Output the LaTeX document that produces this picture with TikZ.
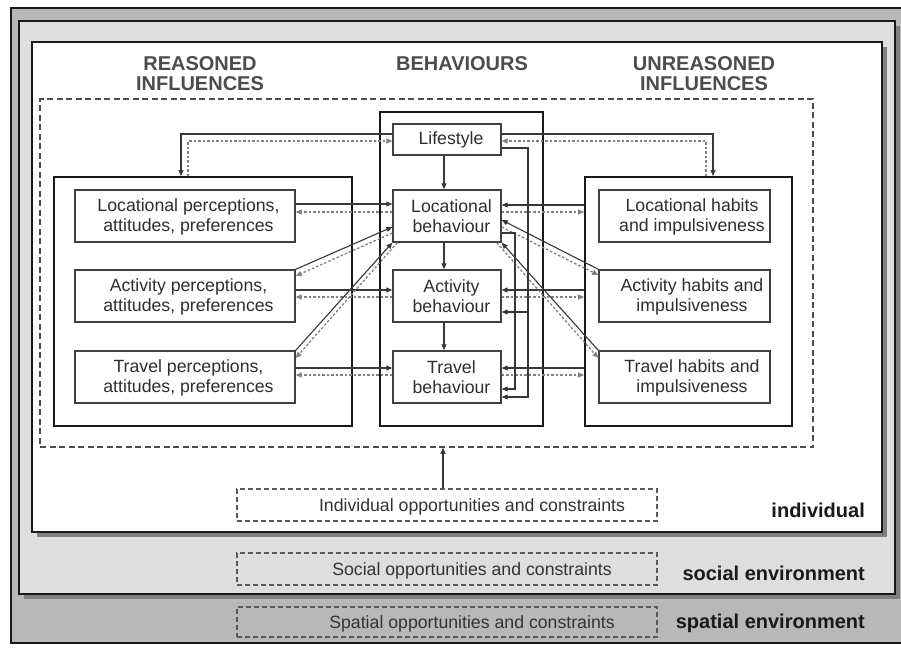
\documentclass[tikz,border=0pt]{standalone}
\usepackage{fontspec}
\setmainfont{Liberation Sans}
\usetikzlibrary{arrows.meta,shadows}
\begin{document}
\begin{tikzpicture}[x=1pt,y=-1pt,
  tipA/.style={-{Triangle[length=6pt,width=5pt]}},
  sol/.style={draw=black!78,line width=1.1pt,tipA},
  dotl/.style={draw=black!50,line width=1.3pt,dash pattern=on 2.5pt off 2pt,tipA},
  ibox/.style={draw=black!75,line width=1.4pt,fill=white,minimum width=#1,minimum height=52pt,inner sep=0pt},
  gbox/.style={draw=black!90,line width=2pt,inner sep=0pt},
  btxt/.style={align=center,text=black!82,font=\fontsize{17.7}{20.5}\selectfont,inner sep=0pt},
  hdr/.style={align=center,text=black!70,font=\fontsize{20}{20}\selectfont\bfseries,inner sep=0pt},
  lbl/.style={anchor=base east,text=black!90,font=\fontsize{20}{20}\selectfont\bfseries,inner sep=0pt},
  obox/.style={draw=black!65,line width=1.3pt,dash pattern=on 5pt off 3pt,minimum width=420pt,inner sep=0pt},
  otxt/.style={anchor=base,text=black!80,font=\fontsize{17.7}{20}\selectfont,inner sep=0pt},
  shd/.style={drop shadow={shadow xshift=5pt,shadow yshift=-5pt,fill=black!50,opacity=1}}
]
\useasboundingbox (0,0) rectangle (901,648);
% environment frames
\node[draw=black!90,line width=2pt,fill=black!28,minimum width=894pt,minimum height=635pt,inner sep=0pt] (spatial) at (458,325.5) {};
\node[shd,draw=black!90,line width=2pt,fill=black!13,minimum width=876pt,minimum height=573pt,inner sep=0pt] (social) at (457,307.5) {};
\node[shd,draw=black!90,line width=2.4pt,fill=white,minimum width=850pt,minimum height=490pt,inner sep=0pt] (indiv) at (457,287) {};
% labels
\node[lbl] (lind) at (865,517) {individual};
\node[lbl] (lsoc) at (865,580) {social environment};
\node[lbl] (lspa) at (865,628) {spatial environment};
% opportunity boxes
\node[obox,minimum height=32pt] (iopp) at (447,505) {};
\node[otxt] (tiopp) at (472,511) {Individual opportunities and constraints};
\node[obox,minimum height=32pt] (sopp) at (447,569) {};
\node[otxt] (tsopp) at (472,575) {Social opportunities and constraints};
\node[obox,minimum height=30pt] (popp) at (447,622) {};
\node[otxt] (tpopp) at (472,628) {Spatial opportunities and constraints};
% headers
\node[hdr] (hr) at (200,74) {REASONED\\INFLUENCES};
\node[hdr] (hb) at (462,64) {BEHAVIOURS};
\node[hdr] (hu) at (704,74) {UNREASONED\\INFLUENCES};
% big dashed box
\node[draw=black!70,line width=1.5pt,dash pattern=on 6pt off 3.5pt,minimum width=773pt,minimum height=348pt,inner sep=0pt] (dbox) at (426.5,273) {};
% group boxes
\node[gbox,minimum width=298pt,minimum height=249pt] (lgrp) at (203,301.5) {};
\node[gbox,minimum width=163pt,minimum height=314pt] (cgrp) at (461.5,269) {};
\node[gbox,minimum width=207pt,minimum height=249pt] (rgrp) at (688.5,301.5) {};
% left inner boxes
\node[ibox=220pt] (rloc) at (185,216) {};
\node[ibox=220pt] (ract) at (185,296) {};
\node[ibox=220pt] (rtrav) at (185,377) {};
\node[btxt] (trloc) at (188.5,217) {Locational perceptions,\\attitudes, preferences};
\node[btxt] (tract) at (188.5,297) {Activity perceptions,\\attitudes, preferences};
\node[btxt] (trtrav) at (188.5,378) {Travel perceptions,\\attitudes, preferences};
% centre boxes
\node[ibox=108pt,minimum height=31pt] (blife) at (447,139.5) {};
\node[ibox=108pt] (bloc) at (447,216) {};
\node[ibox=108pt] (bact) at (447,296) {};
\node[ibox=108pt] (btrav) at (447,377) {};
\node[btxt] (tblife) at (451,140) {Lifestyle};
\node[btxt] (tbloc) at (451.5,216) {Locational\\behaviour};
\node[btxt] (tbact) at (451.5,296) {Activity\\behaviour};
\node[btxt] (tbtrav) at (451.5,377) {Travel\\behaviour};
% right inner boxes
\node[ibox=171pt] (hloc) at (684.5,216) {};
\node[ibox=171pt] (hact) at (684.5,296) {};
\node[ibox=171pt] (htrav) at (684.5,377) {};
\node[btxt] (thloc) at (692,217) {Locational habits\\and impulsiveness};
\node[btxt] (thact) at (692,297) {Activity habits and\\impulsiveness};
\node[btxt] (thtrav) at (692,378) {Travel habits and\\impulsiveness};
% vertical flow in centre
\draw[sol] ([xshift=-3pt]blife.south) -- ([xshift=-3pt]bloc.north);
\draw[sol] ([xshift=-3pt]bloc.south) -- ([xshift=-3pt]bact.north);
\draw[sol] ([xshift=-3pt]bact.south) -- ([xshift=-3pt]btrav.north);
% lifestyle links
\draw[sol] (blife.west |- 0,134) -| (lgrp.north -| 181,0);
\draw[dotl] (lgrp.north -| 188,0) |- (blife.west |- 0,141);
\draw[sol] (blife.east |- 0,134) -| (rgrp.north -| 713,0);
\draw[dotl] (rgrp.north -| 706,0) |- (blife.east |- 0,141);
% rows left
\draw[sol] (rloc.east |- 0,204) -- (bloc.west |- 0,204);
\draw[dotl] (bloc.west |- 0,212) -- (rloc.east |- 0,212);
\draw[sol] (ract.east |- 0,290) -- (bact.west |- 0,290);
\draw[dotl] (bact.west |- 0,297) -- (ract.east |- 0,297);
\draw[sol] (rtrav.east |- 0,368) -- (btrav.west |- 0,368);
\draw[dotl] (btrav.west |- 0,375) -- (rtrav.east |- 0,375);
% rows right
\draw[sol] (rgrp.west |- 0,205) -- (bloc.east |- 0,205);
\draw[dotl] (bloc.east |- 0,212) -- (rgrp.west |- 0,212);
\draw[sol] (rgrp.west |- 0,290) -- (bact.east |- 0,290);
\draw[dotl] (bact.east |- 0,297) -- (rgrp.west |- 0,297);
\draw[sol] (rgrp.west |- 0,368) -- (btrav.east |- 0,368);
\draw[dotl] (btrav.east |- 0,375) -- (rgrp.west |- 0,375);
% diagonals left
\draw[sol] (ract.north east) -- (bloc.west |- 0,227);
\draw[dotl] (bloc.west |- 0,233) -- (ract.east |- 0,276);
\draw[sol] (rtrav.north east) -- (bloc.south west);
\draw[dotl] ([xshift=5pt]bloc.south west) -- (rtrav.east |- 0,358);
% diagonals right
\draw[sol] (hact.north west) -- (bloc.east |- 0,220);
\draw[dotl] (bloc.east |- 0,227) -- (hact.west |- 0,275);
\draw[sol] (htrav.north west) -- (bloc.south east);
\draw[dotl] ([xshift=-5pt]bloc.south east) -- (htrav.west |- 0,358);
% feedback loops
\coordinate (busA) at (528,312);
\coordinate (busB) at (515,389);
\draw[sol] (blife.east |- 0,148) -| (busA |- 0,397) -- (btrav.east |- 0,397);
\draw[sol] (busA) -- (bact.east |- busA);
\draw[sol] (bloc.east |- 0,233) -| (busB) -- (btrav.east |- busB);
% opportunities arrow
\draw[sol] (iopp.north -| 443,0) -- (dbox.south -| 443,0);
\end{tikzpicture}
\end{document}
